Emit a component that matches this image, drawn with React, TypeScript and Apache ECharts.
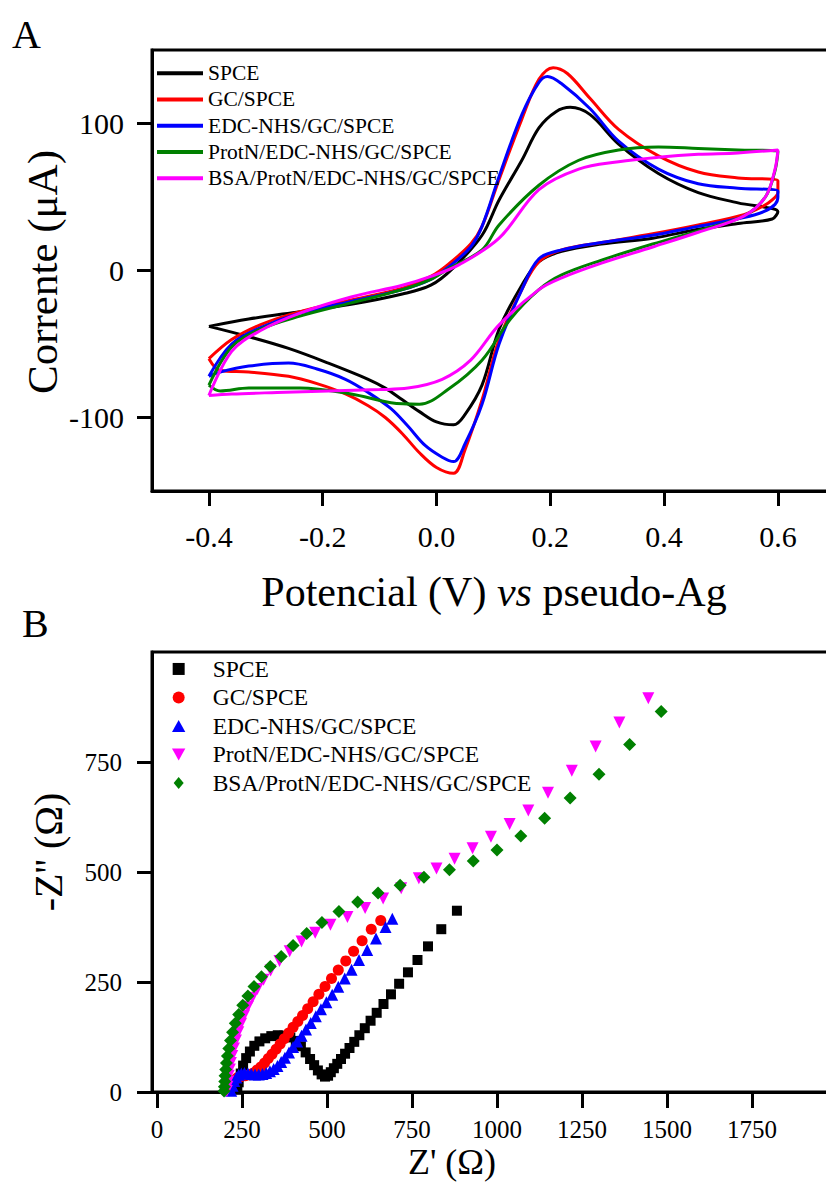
import { useEffect, useRef } from "react";
import * as echarts from "echarts";

const FONT = "Liberation Serif";

const cvNames = ["SPCE", "GC/SPCE", "EDC-NHS/GC/SPCE", "ProtN/EDC-NHS/GC/SPCE", "BSA/ProtN/EDC-NHS/GC/SPCE"];
const cvColors = ["#000000", "#ff0000", "#0000ff", "#008000", "#ff00ff"];
const eisNames = ["SPCE", "GC/SPCE", "EDC-NHS/GC/SPCE", "ProtN/EDC-NHS/GC/SPCE", "BSA/ProtN/EDC-NHS/GC/SPCE"];
const eisColors = ["#000000", "#ff0000", "#0000ff", "#ff00ff", "#008000"];
const eisSymbols = ["rect", "circle", "triangle", "triangle", "diamond"];
const eisSymbolRotate = [0, 0, 0, 180, 0];
const eisSymbolSizes = [10, 11, 12, 12, 13];
const eisLegendIcons = [
  "path://M0,0H10V10H0Z",
  "path://M5,0A5,5,0,1,1,5,10A5,5,0,1,1,5,0Z",
  "path://M5,0L10,9L0,9Z",
  "path://M0,0L10,0L5,9Z",
  "path://M5,0L10,6L5,12L0,6Z",
];

const cvPotentialTicks = [-0.4, -0.2, 0, 0.2, 0.4, 0.6];
const cvCurrentTicks = [-100, 0, 100];
const eisZreTicks = [0, 250, 500, 750, 1000, 1250, 1500, 1750];
const eisZimTicks = [0, 250, 500, 750];

// CV curves: [potential (V), current (µA)], forward scan then reverse scan
const cvSPCE = [
  [-0.4, -38], [-0.33, -33], [-0.24, -28], [-0.15, -23], [-0.06, -16], [-0.01, -10], [0.03, 2], [0.08, 24],
  [0.11, 48], [0.15, 75], [0.18, 97], [0.21, 108], [0.235, 111], [0.27, 106], [0.32, 86], [0.39, 66],
  [0.46, 53], [0.53, 46], [0.6, 40],
  [0.59, 35], [0.53, 32], [0.46, 28], [0.38, 22], [0.29, 18], [0.22, 13], [0.18, 6], [0.15, -10], [0.11, -40],
  [0.08, -78], [0.05, -98], [0.03, -105], [0.0, -103], [-0.03, -96], [-0.06, -88], [-0.09, -80], [-0.12, -74],
  [-0.19, -63], [-0.26, -53], [-0.33, -45], [-0.4, -38],
];
const cvGC = [
  [-0.4, -60], [-0.36, -47], [-0.31, -37], [-0.24, -28], [-0.15, -20], [-0.06, -12], [-0.01, -4], [0.02, 4],
  [0.06, 18], [0.08, 30], [0.11, 62], [0.15, 103], [0.18, 130], [0.205, 138], [0.23, 134], [0.27, 117],
  [0.32, 96], [0.39, 78], [0.46, 67], [0.53, 63], [0.6, 61],
  [0.6, 53], [0.59, 48], [0.575, 44], [0.54, 38], [0.46, 31], [0.38, 25], [0.29, 19], [0.22, 14], [0.18, 6],
  [0.15, -13], [0.11, -47], [0.08, -88], [0.05, -122], [0.03, -138], [0.0, -134], [-0.03, -124], [-0.06, -111],
  [-0.09, -100], [-0.12, -92], [-0.16, -84], [-0.21, -77], [-0.26, -72], [-0.33, -69], [-0.38, -68], [-0.4, -60],
];
const cvEDC = [
  [-0.4, -72], [-0.36, -50], [-0.31, -39], [-0.24, -29], [-0.15, -21], [-0.06, -13], [-0.01, -6], [0.02, 2],
  [0.06, 16], [0.08, 30], [0.11, 64], [0.15, 106], [0.18, 128], [0.195, 132], [0.22, 127], [0.27, 110],
  [0.32, 88], [0.39, 69], [0.46, 59], [0.53, 56], [0.6, 54],
  [0.6, 50], [0.595, 45], [0.575, 40], [0.54, 36], [0.46, 30], [0.38, 24], [0.29, 19], [0.22, 14], [0.18, 8],
  [0.15, -13], [0.11, -50], [0.08, -91], [0.05, -118], [0.03, -130], [0.01, -127], [-0.02, -119], [-0.05, -106],
  [-0.08, -94], [-0.12, -83], [-0.16, -74], [-0.21, -67], [-0.26, -63], [-0.33, -65], [-0.38, -69], [-0.4, -72],
];
const cvProtN = [
  [-0.4, -78], [-0.36, -52], [-0.31, -40], [-0.24, -31], [-0.15, -22], [-0.06, -13], [-0.01, -6], [0.02, 1],
  [0.08, 14], [0.11, 31], [0.18, 58], [0.25, 75], [0.32, 82], [0.39, 84], [0.46, 83], [0.53, 82], [0.6, 81],
  [0.595, 68], [0.578, 50], [0.54, 37], [0.46, 27], [0.38, 18], [0.29, 7], [0.22, -3], [0.18, -13], [0.13, -33],
  [0.08, -61], [0.02, -81], [-0.03, -91], [-0.08, -90], [-0.15, -84], [-0.24, -80], [-0.33, -80], [-0.38, -82],
  [-0.4, -78],
];
const cvBSA = [
  [-0.4, -85], [-0.36, -55], [-0.31, -41], [-0.24, -29], [-0.15, -18], [-0.06, -10], [-0.01, -4], [0.04, 4],
  [0.11, 22], [0.18, 55], [0.25, 69], [0.32, 74], [0.39, 77], [0.46, 79], [0.53, 80], [0.6, 82],
  [0.595, 69], [0.578, 50], [0.54, 37], [0.46, 26], [0.38, 16], [0.29, 5], [0.22, -5], [0.18, -13], [0.11, -37],
  [0.06, -61], [0.01, -74], [-0.05, -80], [-0.1, -81], [-0.19, -82], [-0.28, -83], [-0.36, -84], [-0.4, -85],
];
const cvData = [cvSPCE, cvGC, cvEDC, cvProtN, cvBSA];

// EIS Nyquist: [Z' (Ω), -Z'' (Ω)]
const eisSPCE = [
  [236, 5], [240, 22], [246, 42], [253, 60], [262, 77], [273, 92], [286, 105], [301, 115], [318, 122], [336, 127],
  [355, 129], [374, 128], [392, 124], [408, 116], [423, 104], [437, 90], [450, 75], [462, 61], [473, 49], [484, 40],
  [494, 35], [503, 37], [511, 45], [520, 54], [530, 64], [541, 75], [553, 87], [566, 100], [580, 114], [595, 129],
  [611, 145], [628, 162], [646, 180], [666, 200], [688, 222], [712, 246], [738, 272], [766, 300], [797, 331],
  [836, 370], [882, 412],
];
const eisGC = [
  [212, 3], [216, 12], [221, 21], [228, 28], [237, 33], [248, 35], [260, 37], [272, 39], [283, 43], [294, 50],
  [305, 57], [316, 66], [327, 76], [338, 86], [350, 97], [362, 109], [374, 121], [387, 134], [400, 147], [414, 160],
  [428, 174], [443, 189], [459, 205], [476, 222], [494, 240], [513, 258], [533, 277], [555, 298], [578, 320],
  [603, 344], [630, 370], [658, 390],
];
const eisEDC = [
  [218, 3], [222, 14], [227, 25], [233, 33], [240, 39], [248, 42], [257, 43], [267, 42], [277, 41], [288, 40],
  [299, 40], [310, 41], [321, 43], [332, 47], [343, 52], [354, 59], [365, 68], [376, 78], [388, 90], [400, 102],
  [412, 115], [425, 128], [438, 142], [452, 157], [467, 172], [482, 188], [498, 204], [515, 221], [533, 239],
  [552, 258], [572, 278], [594, 300], [618, 323], [644, 349], [672, 375], [692, 394],
];
const eisProtN = [
  [205, 2], [207, 12], [209, 24], [211, 37], [214, 51], [217, 66], [221, 82], [226, 99], [232, 117], [239, 136],
  [247, 155], [256, 174], [267, 194], [280, 214], [295, 234], [313, 255], [334, 276], [360, 298], [390, 320],
  [425, 342], [465, 362], [510, 380], [560, 398], [612, 418], [665, 440], [718, 463], [770, 486], [822, 508],
  [875, 530], [928, 554], [982, 580], [1037, 609], [1092, 640], [1150, 680], [1220, 730], [1290, 785],
  [1360, 840], [1445, 895],
];
const eisBSA = [
  [197, 2], [198, 12], [199, 24], [200, 37], [202, 51], [204, 66], [207, 82], [211, 99], [216, 117], [222, 136],
  [230, 156], [240, 176], [252, 197], [267, 218], [285, 240], [307, 262], [333, 285], [365, 308], [400, 333],
  [440, 360], [485, 385], [535, 410], [590, 432], [650, 452], [715, 470], [785, 488], [860, 505], [930, 525],
  [1000, 550], [1070, 582], [1140, 622], [1215, 668], [1300, 722], [1390, 790], [1483, 865],
];
const eisData = [eisSPCE, eisGC, eisEDC, eisProtN, eisBSA];

export default function App() {
  const ref = useRef<HTMLDivElement>(null);
  useEffect(() => {
    if (!ref.current) return;
    const chart = echarts.init(ref.current, null, { renderer: "svg" });
    const axisLine = { show: true, onZero: false, lineStyle: { color: "#000", width: 3 } };
    const option: any = {
      animation: false,
      backgroundColor: "#ffffff",
      textStyle: { fontFamily: FONT, color: "#000" },
      grid: [
        { left: 152, top: 50, width: 739.7, height: 441, show: true, borderColor: "#000", borderWidth: 3 },
        { left: 152, top: 652, width: 790, height: 440, show: true, borderColor: "#000", borderWidth: 3 },
      ],
      xAxis: [
        {
          gridIndex: 0, type: "value", min: -0.5, max: 0.8,
          axisLine, splitLine: { show: false },
          axisTick: { show: true, inside: false, length: 15, lineStyle: { color: "#000", width: 3 }, customValues: cvPotentialTicks },
          axisLabel: { customValues: cvPotentialTicks, formatter: (v: number) => v.toFixed(1), fontSize: 30, color: "#000", fontFamily: FONT, margin: 30 },
        },
        {
          gridIndex: 1, type: "value", min: -15, max: 2309,
          axisLine, splitLine: { show: false },
          axisTick: { show: true, inside: false, length: 16, lineStyle: { color: "#000", width: 3 }, customValues: eisZreTicks },
          axisLabel: { customValues: eisZreTicks, formatter: (v: number) => String(Math.round(v)), fontSize: 25, color: "#000", fontFamily: FONT, margin: 25 },
        },
      ],
      yAxis: [
        {
          gridIndex: 0, type: "value", min: -150, max: 150,
          axisLine, splitLine: { show: false },
          axisTick: { show: true, inside: false, length: 15, lineStyle: { color: "#000", width: 3 }, customValues: cvCurrentTicks },
          axisLabel: { customValues: cvCurrentTicks, formatter: (v: number) => String(Math.round(v)), fontSize: 30, color: "#000", fontFamily: FONT, margin: 28 },
        },
        {
          gridIndex: 1, type: "value", min: 0, max: 1000,
          axisLine, splitLine: { show: false },
          axisTick: { show: true, inside: false, length: 15, lineStyle: { color: "#000", width: 3 }, customValues: eisZimTicks },
          axisLabel: { customValues: eisZimTicks, formatter: (v: number) => String(Math.round(v)), fontSize: 25, color: "#000", fontFamily: FONT, margin: 30 },
        },
      ],
      legend: [
        {
          orient: "vertical", left: 157, top: 60, padding: 0, itemGap: 0, itemWidth: 46, itemHeight: 4,
          selectedMode: false,
          textStyle: { fontFamily: FONT, fontSize: 21.5, lineHeight: 26.3, color: "#000" },
          data: cvNames.map((n, i) => ({ name: n, icon: "rect", itemStyle: { color: cvColors[i], borderWidth: 0 } })),
        },
        {
          orient: "vertical", left: 172, top: 654.7, padding: 0, itemGap: 0, itemWidth: 58, itemHeight: 12,
          selectedMode: false,
          textStyle: { fontFamily: FONT, fontSize: 23.5, lineHeight: 28.5, color: "#000" },
          data: eisNames.map((n, i) => ({ name: n, icon: eisLegendIcons[i], itemStyle: { color: eisColors[i], borderWidth: 0 } })),
        },
      ],
      graphic: [
        { type: "text", left: 12, top: 14, style: { text: "A", font: `40px '${FONT}'`, fill: "#000" } },
        { type: "text", left: 22, top: 603, style: { text: "B", font: `40px '${FONT}'`, fill: "#000" } },
        {
          type: "text", x: 42, y: 272, rotation: Math.PI / 2,
          style: { text: "Corrente (μA)", font: `43px '${FONT}'`, fill: "#000", align: "center", verticalAlign: "middle" },
        },
        {
          type: "text", x: 494, y: 592,
          style: {
            text: "{n|Potencial (V) }{i|vs}{n| pseudo-Ag}", align: "center", verticalAlign: "middle",
            rich: {
              n: { fontFamily: FONT, fontSize: 42, fill: "#000" },
              i: { fontFamily: FONT, fontSize: 42, fontStyle: "italic", fill: "#000" },
            },
          },
        },
        {
          type: "text", x: 48, y: 852, rotation: Math.PI / 2,
          style: { text: "-Z'' (Ω)", font: `40px '${FONT}'`, fill: "#000", align: "center", verticalAlign: "middle" },
        },
        {
          type: "text", x: 452, y: 1162,
          style: { text: "Z' (Ω)", font: `36px '${FONT}'`, fill: "#000", align: "center", verticalAlign: "middle" },
        },
      ],
      series: [
        ...cvNames.map((n, i) => ({
          name: n, type: "line", xAxisIndex: 0, yAxisIndex: 0, data: cvData[i],
          symbol: "none", showSymbol: false, smooth: 0.35, lineStyle: { color: cvColors[i], width: 3 },
          itemStyle: { color: cvColors[i] },
        })),
        ...eisNames.map((n, i) => ({
          name: n, type: "scatter", xAxisIndex: 1, yAxisIndex: 1, data: eisData[i],
          symbol: eisSymbols[i], symbolRotate: eisSymbolRotate[i], symbolSize: eisSymbolSizes[i],
          itemStyle: { color: eisColors[i], opacity: 1 },
        })),
      ],
    };
    chart.setOption(option);
    return () => chart.dispose();
  }, []);
  return (
    <div style={{ position: "fixed", left: 0, top: 0, width: 826, height: 1185, overflow: "hidden", background: "#fff" }}>
      <div ref={ref} style={{ position: "absolute", left: 0, top: 0, width: 1000, height: 1185 }} />
    </div>
  );
}
